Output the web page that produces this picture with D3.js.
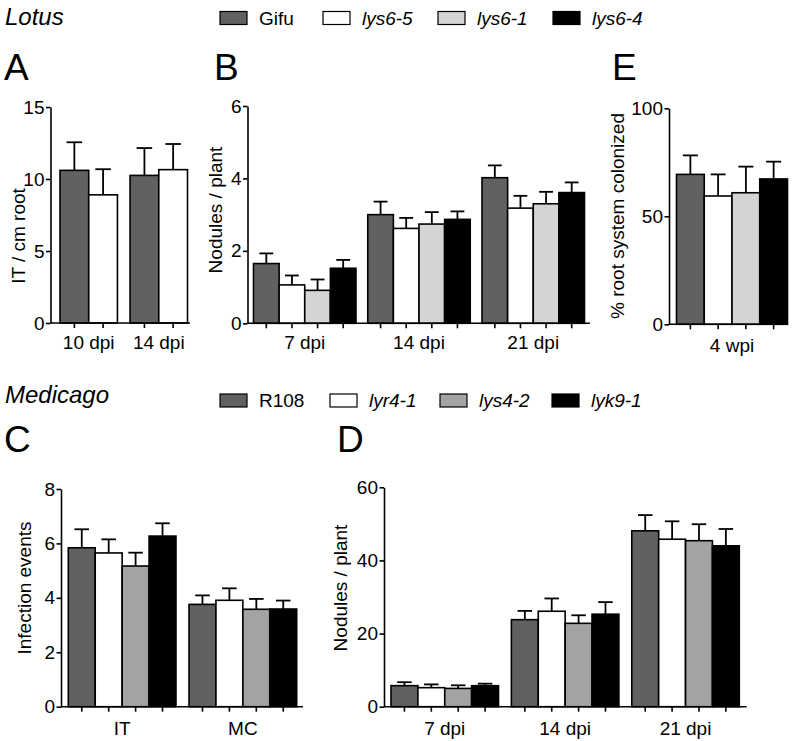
<!DOCTYPE html>
<html><head><meta charset="utf-8">
<script src="https://cdn.jsdelivr.net/npm/d3@7"></script>
<style>body{margin:0;background:#fff} svg{display:block} text{font-family:"Liberation Sans",Arial,sans-serif;fill:#000}</style>
</head><body><svg id="c" width="796" height="741"></svg>
<script>
// ---------- DATA ----------
const lotusSeries = ["Gifu", "lys6-5", "lys6-1", "lys6-4"];
const lotusColors = ["#616161", "#ffffff", "#d4d4d4", "#000000"];
const medSeries = ["R108", "lyr4-1", "lys4-2", "lyk9-1"];
const medColors = ["#616161", "#ffffff", "#a3a3a3", "#000000"];

// Panel A: IT / cm root (Gifu, lys6-5)
const aCategories = ["10 dpi", "14 dpi"];
const aSeries = ["Gifu", "lys6-5"];
const aMeans = [[10.6, 10.25], [8.9, 10.65]];
const aErrors = [[1.95, 1.9], [1.78, 1.78]];
const aTicks = [0, 5, 10, 15];

// Panel B: Nodules / plant (Lotus)
const bCategories = ["7 dpi", "14 dpi", "21 dpi"];
const bMeans = [[1.65, 3.0, 4.02], [1.06, 2.62, 3.18], [0.91, 2.74, 3.30], [1.52, 2.87, 3.61]];
const bErrors = [[0.28, 0.36, 0.34], [0.26, 0.29, 0.34], [0.30, 0.33, 0.33], [0.23, 0.22, 0.28]];
const bTicks = [0, 2, 4, 6];

// Panel E: % root system colonized
const eCategories = ["4 wpi"];
const eMeans = [[69.4], [59.4], [60.9], [67.3]];
const eErrors = [[8.8], [10.0], [12.1], [8.0]];
const eTicks = [0, 50, 100];

// Panel C: Infection events (Medicago)
const cCategories = ["IT", "MC"];
const cMeans = [[5.84, 3.76], [5.65, 3.91], [5.17, 3.58], [6.27, 3.59]];
const cErrors = [[0.68, 0.33], [0.50, 0.44], [0.49, 0.38], [0.47, 0.31]];
const cTicks = [0, 2, 4, 6, 8];

// Panel D: Nodules / plant (Medicago)
const dCategories = ["7 dpi", "14 dpi", "21 dpi"];
const dMeans = [[5.75, 23.8, 48.1], [5.2, 26.1, 45.8], [5.0, 22.8, 45.4], [5.75, 25.3, 44.0]];
const dErrors = [[0.95, 2.4, 4.3], [0.9, 3.5, 4.9], [0.85, 2.2, 4.5], [0.55, 3.3, 4.6]];
const dTicks = [0, 20, 40, 60];

// ---------- DRAW ----------
const svg = d3.select("#c");
const FS = 19;

function drawPanel(o) {
  const g = svg.append("g");
  const x0 = d3.scaleBand().domain(o.categories).range(o.xr).paddingInner(o.pad).paddingOuter(0);
  const x1 = d3.scaleBand().domain(o.series).range([0, x0.bandwidth()]);
  const y = d3.scaleLinear().domain([0, o.ymax]).range(o.yr);
  const color = d3.scaleOrdinal().domain(o.series).range(o.colors);
  const bw = x1.bandwidth();

  const items = [];
  o.series.forEach((s, si) => o.categories.forEach((c, ci) => {
    items.push({s, c, v: o.means[si][ci], e: o.errors[si][ci]});
  }));
  const cx = d => x0(d.c) + x1(d.s) + bw / 2;

  // error bars (upper only)
  g.selectAll(".eb").data(items).join("line")
    .attr("x1", cx).attr("x2", cx)
    .attr("y1", d => y(d.v)).attr("y2", d => y(d.v + d.e))
    .attr("stroke", "#000").attr("stroke-width", 1.8);
  g.selectAll(".cap").data(items).join("line")
    .attr("x1", d => cx(d) - bw * 0.27).attr("x2", d => cx(d) + bw * 0.27)
    .attr("y1", d => y(d.v + d.e)).attr("y2", d => y(d.v + d.e))
    .attr("stroke", "#000").attr("stroke-width", 1.8);
  // bars
  g.selectAll(".bar").data(items).join("rect")
    .attr("x", d => x0(d.c) + x1(d.s)).attr("width", bw)
    .attr("y", d => y(d.v)).attr("height", d => y(0) - y(d.v))
    .attr("fill", d => color(d.s)).attr("stroke", "#000").attr("stroke-width", 1.6);

  // y axis
  const ya = g.append("g").attr("transform", `translate(${o.axisX},0)`)
    .call(d3.axisLeft(y).tickValues(o.ticks).tickSize(4.5).tickSizeOuter(0).tickPadding(1.5).tickFormat(d3.format("d")));
  ya.selectAll("path,line").attr("stroke", "#000").attr("stroke-width", 1.6);
  ya.selectAll("text").attr("font-size", FS).attr("font-family", '"Liberation Sans",Arial,sans-serif').attr("fill", "#000");

  // x axis line
  g.append("line").attr("x1", o.axisX).attr("x2", o.xEnd).attr("y1", y(0)).attr("y2", y(0))
    .attr("stroke", "#000").attr("stroke-width", 1.6);
  // x ticks at each bar centre
  g.selectAll(".xt").data(items).join("line")
    .attr("x1", cx).attr("x2", cx).attr("y1", y(0)).attr("y2", y(0) + 5)
    .attr("stroke", "#000").attr("stroke-width", 1.6);
  // category labels
  g.selectAll(".cl").data(o.categories).join("text")
    .attr("x", c => x0(c) + x0.bandwidth() / 2).attr("y", o.catY)
    .attr("text-anchor", "middle").attr("font-size", FS).text(c => c);
  // y title
  g.append("text").attr("transform", `translate(${o.titleX},${o.titleY}) rotate(-90)`)
    .attr("text-anchor", "middle").attr("font-size", FS).text(o.title);
  // panel letter
  svg.append("text").attr("x", o.letterX).attr("y", o.letterY).attr("font-size", 37).text(o.letter);
}

drawPanel({letter: "A", letterX: 4, letterY: 80, categories: aCategories, series: aSeries,
  colors: [lotusColors[0], lotusColors[1]], means: aMeans, errors: aErrors, ticks: aTicks, ymax: 15,
  xr: [60, 187.5], pad: 0.18, yr: [323, 107], axisX: 50.5, xEnd: 190, catY: 349,
  title: "IT / cm root", titleX: 25, titleY: 236});

drawPanel({letter: "B", letterX: 214, letterY: 80, categories: bCategories, series: lotusSeries,
  colors: lotusColors, means: bMeans, errors: bErrors, ticks: bTicks, ymax: 6,
  xr: [253.5, 584.5], pad: 0.103, yr: [323.3, 106], axisX: 247.5, xEnd: 590, catY: 349,
  title: "Nodules / plant", titleX: 222, titleY: 210});

drawPanel({letter: "E", letterX: 612, letterY: 80, categories: eCategories, series: lotusSeries,
  colors: lotusColors, means: eMeans, errors: eErrors, ticks: eTicks, ymax: 100,
  xr: [676.5, 787.5], pad: 0, yr: [324.3, 108.3], axisX: 669, xEnd: 788, catY: 352,
  title: "% root system colonized", titleX: 624, titleY: 216});

drawPanel({letter: "C", letterX: 4, letterY: 452, categories: cCategories, series: medSeries,
  colors: medColors, means: cMeans, errors: cErrors, ticks: cTicks, ymax: 8,
  xr: [68.3, 296.7], pad: 0.108, yr: [706.7, 489], axisX: 61, xEnd: 303, catY: 735,
  title: "Infection events", titleX: 31, titleY: 588});

drawPanel({letter: "D", letterX: 337, letterY: 452, categories: dCategories, series: medSeries,
  colors: medColors, means: dMeans, errors: dErrors, ticks: dTicks, ymax: 60,
  xr: [391, 739.3], pad: 0.107, yr: [706.7, 487.3], axisX: 384, xEnd: 746.7, catY: 735,
  title: "Nodules / plant", titleX: 347, titleY: 588});

// species titles
svg.append("text").attr("x", 5).attr("y", 25).attr("font-size", 24).attr("font-style", "italic").text("Lotus");
svg.append("text").attr("x", 5).attr("y", 403).attr("font-size", 24).attr("font-style", "italic").text("Medicago");

// legends
function legend(series, colors, xs, y) {
  const g = svg.append("g");
  series.forEach((s, i) => {
    g.append("rect").attr("x", xs[i]).attr("y", y - 13).attr("width", 27).attr("height", 13)
      .attr("fill", colors[i]).attr("stroke", "#000").attr("stroke-width", 1.2);
    g.append("text").attr("x", xs[i] + 39).attr("y", y).attr("font-size", FS)
      .attr("font-style", i === 0 ? "normal" : "italic").text(s);
  });
}
legend(lotusSeries, lotusColors, [220, 323, 438, 553], 24.5);
legend(medSeries, medColors, [220, 330, 440, 552], 407);
</script></body></html>
